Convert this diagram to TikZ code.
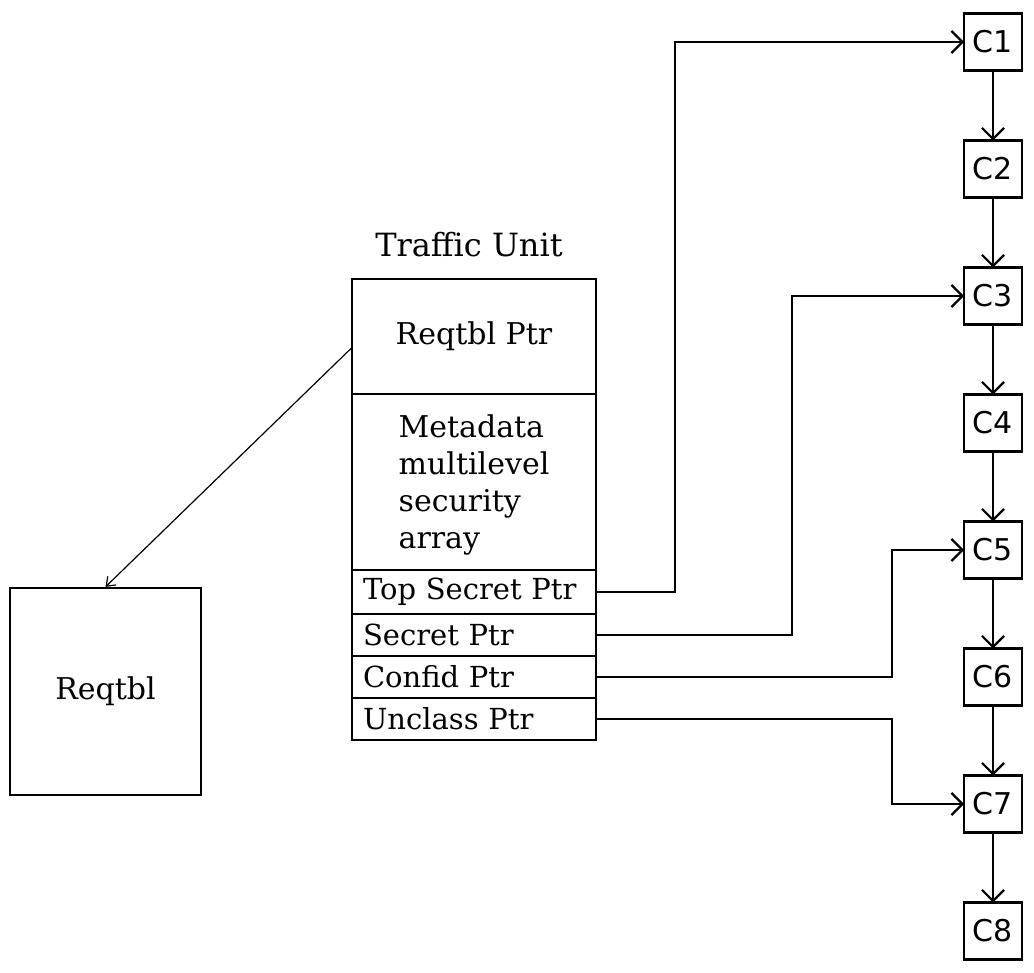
\documentclass[tikz,border=0pt]{standalone}
\usepackage{fontspec}
\setmainfont{DejaVu Serif}
\setsansfont{DejaVu Sans}
\usetikzlibrary{arrows.meta,positioning}

\begin{document}
\begin{tikzpicture}[
    x=1pt, y=-1pt,
    node distance=70pt,
    field/.style={rectangle, draw, line width=2.2pt, minimum width=244pt, outer sep=0pt, font=\fontsize{30}{37}\selectfont},
    ptrfield/.style={field, minimum height=42pt, text width=222pt, inner xsep=11pt, inner ysep=0pt, align=left, font=\fontsize{29}{34}\selectfont},
    tablebox/.style={rectangle, draw, line width=2.2pt, minimum width=191pt, minimum height=207pt, font=\fontsize{30}{36}\selectfont},
    cell/.style={rectangle, draw, line width=2.2pt, outer sep=0pt, minimum width=58pt, minimum height=57pt, font=\sffamily\fontsize{30}{36}\selectfont},
    arrow/.style={-{Straight Barb[length=11pt,width=22pt]}, line width=2.2pt},
    thinarrow/.style={-{Straight Barb[length=8pt,width=12pt]}, line width=1.2pt}
]
    \useasboundingbox (0,0) rectangle (1034,973);

    % Traffic unit record
    \node[field, minimum height=115pt] (reqptr) at (474,336.5) {Reqtbl Ptr};
    \node[field, minimum height=176pt, below=0pt of reqptr, align=left, text depth=0pt] (meta) {Metadata\\multilevel\\security\\array};
    \node[ptrfield, minimum height=44pt, below=0pt of meta] (topsecret) {Top Secret Ptr};
    \node[ptrfield, below=0pt of topsecret] (secret) {Secret Ptr};
    \node[ptrfield, below=0pt of secret] (confid) {Confid Ptr};
    \node[ptrfield, below=0pt of confid] (unclass) {Unclass Ptr};
    \node[font=\fontsize{32}{38}\selectfont] (title) at (469,245) {Traffic Unit};

    % Request table
    \node[tablebox] (reqtbl) at (105.5,691.5) {Reqtbl};

    % Chain of cells
    \node[cell] (c1) at (993,42) {C1};
    \foreach \i [count=\j from 1] in {2,...,8}
        \node[cell, below=of c\j] (c\i) {C\i};

    % Arrows - chain
    \foreach \i [count=\j from 1] in {2,...,8}
        \draw[arrow] (c\j) -- (c\i);

    % Arrows - pointers
    \draw[arrow] (topsecret.east) -- ++(79,0) |- (c1.west);
    \draw[arrow] (secret.east) -- ++(196,0) |- (c3.west);
    \draw[arrow] (confid.east) -- ++(296,0) |- (c5.west);
    \draw[arrow] (unclass.east) -- ++(296,0) |- (c7.west);
    \draw[thinarrow] ([yshift=-11pt]reqptr.west) -- (reqtbl.north);
\end{tikzpicture}
\end{document}
